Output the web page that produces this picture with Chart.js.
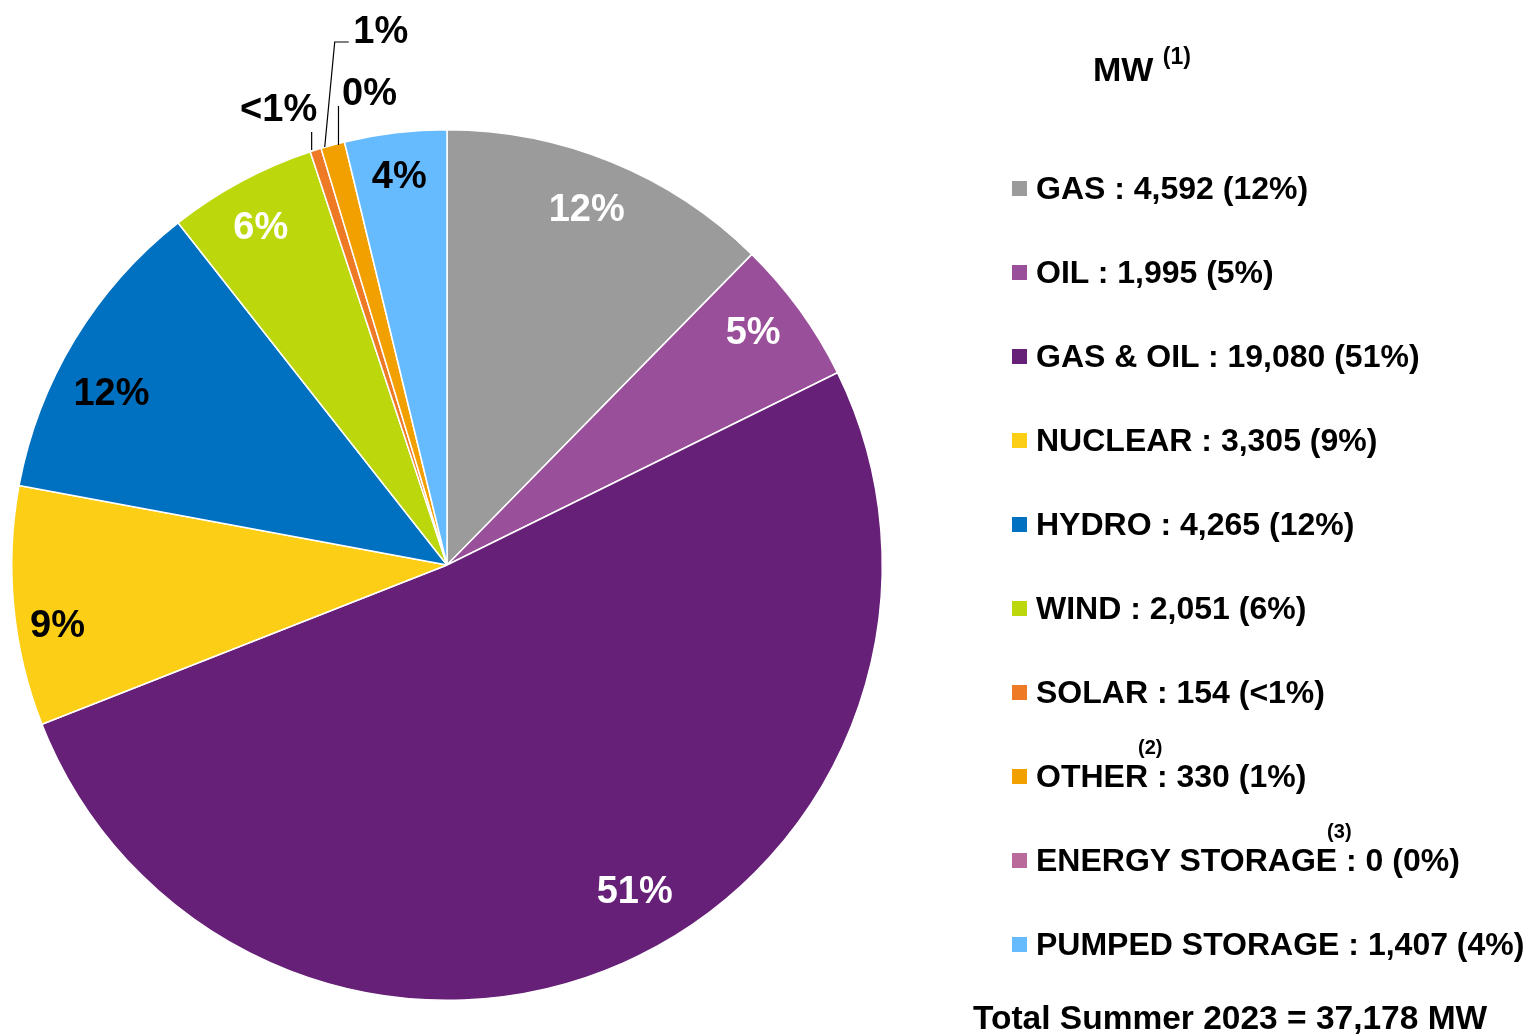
<!DOCTYPE html>
<html>
<head>
<meta charset="utf-8">
<script src="https://cdn.jsdelivr.net/npm/chart.js@4/dist/chart.umd.min.js"></script>
<style>
  html, body { margin: 0; padding: 0; background: #fff; }
  body { width: 1526px; height: 1035px; position: relative; overflow: hidden;
         font-family: "Liberation Sans", Arial, sans-serif; font-weight: bold; color: #000; }
  #wrap { position: absolute; left: 0; top: 0; width: 1526px; height: 1035px; }
  .lg { position: absolute; font-size: 32px; line-height: 32px; white-space: nowrap; }
  .sw { position: absolute; width: 15px; height: 15px; }
  .anchor { position: relative; display: inline-block; width: 0; height: 0; }
  .sup { position: absolute; left: -10px; top: -50px; font-size: 20px; line-height: 20px; white-space: nowrap; }
</style>
</head>
<body>
<div id="wrap"><canvas id="c" width="1526" height="1035"></canvas></div>
<div id="legend"></div>
<script>
// ---- data ----
const categories = ["GAS", "OIL", "GAS & OIL", "NUCLEAR", "HYDRO", "WIND", "SOLAR", "OTHER", "ENERGY STORAGE", "PUMPED STORAGE"];
const capacityMW = [4592, 1995, 19080, 3305, 4265, 2051, 154, 330, 0, 1407];
const pctLabels = ["12%", "5%", "51%", "9%", "12%", "6%", "<1%", "1%", "0%", "4%"];
const footnotes = ["", "", "", "", "", "", "", "(2)", "(3)", ""];
const sliceColors = ["#9B9B9B", "#994F99", "#662077", "#FCCF16", "#0070C0", "#BCD70B", "#EE7A26", "#F2A000", "#B96A9A", "#66BBFF"];
const labelColors = ["#fff", "#fff", "#fff", "#000", "#000", "#fff", "#000", "#000", "#000", "#000"];
const titleText = "MW";
const titleNote = "(1)";
const totalText = "Total Summer 2023 = 37,178 MW";

// label placement tweaks (styling only, in px)
const labelNudge = [[-6, 2], [-6, -6], [32, -25], [-6, 25], [-6, 29], [-4, 3], [0, 0], [0, 0], [0, 0], [-2, -5]];

// ---- legend (HTML) ----
const legend = document.getElementById('legend');
function addEl(html, cls, left, top) {
  const d = document.createElement('div');
  d.className = cls; d.style.left = left + 'px'; d.style.top = top + 'px';
  d.innerHTML = html; legend.appendChild(d); return d;
}
const t = addEl(titleText + ' <span style="font-size:23px;position:relative;top:-13px;vertical-align:top">' + titleNote + '</span>', 'lg', 1093, 52);
t.style.fontSize = '34px'; t.style.lineHeight = '34px';
categories.forEach((name, i) => {
  const cy = 188 + i * 84;
  const sw = addEl('', 'sw', 1012, cy - 7.5);
  sw.style.background = sliceColors[i];
  const note = footnotes[i] ? '<span class="anchor"><span class="sup">' + footnotes[i] + '</span></span>' : '';
  addEl(name + note + ' : ' + capacityMW[i].toLocaleString('en-US') + ' (' + pctLabels[i] + ')', 'lg', 1036, cy - 16);
});
const tot = addEl(totalText, 'lg', 973, 1002);
tot.style.fontSize = '33.5px';

// ---- pie labels plugin ----
const labelPlugin = {
  id: 'pieLabels',
  afterDatasetsDraw(chart) {
    const ctx = chart.ctx;
    const arcs = chart.getDatasetMeta(0).data;
    ctx.save();
    ctx.font = 'bold 38px "Liberation Sans", Arial, sans-serif';
    ctx.textAlign = 'center';
    ctx.textBaseline = 'middle';
    ctx.strokeStyle = '#000';
    ctx.lineWidth = 1.2;
    arcs.forEach((arc, i) => {
      const { x, y, startAngle, endAngle, outerRadius } = arc.getProps(['x', 'y', 'startAngle', 'endAngle', 'outerRadius'], true);
      const mid = (startAngle + endAngle) / 2;
      ctx.fillStyle = labelColors[i];
      if (i === 6) {
        const ax = x + Math.cos(mid) * outerRadius, ay = y + Math.sin(mid) * outerRadius;
        ctx.beginPath(); ctx.moveTo(ax - 4, ay); ctx.lineTo(ax - 4, ay - 18); ctx.stroke();
        ctx.fillText(pctLabels[i], ax - 37, ay - 40);
      } else if (i === 7) {
        const ax = x + Math.cos(mid) * outerRadius, ay = y + Math.sin(mid) * outerRadius;
        ctx.beginPath(); ctx.moveTo(ax - 8, ay + 2); ctx.lineTo(ax + 2, ay - 103); ctx.lineTo(ax + 16, ay - 103); ctx.stroke();
        ctx.fillText(pctLabels[i], ax + 48, ay - 113);
      } else if (i === 8) {
        const ax = x + Math.cos(endAngle) * outerRadius, ay = y + Math.sin(endAngle) * outerRadius;
        ctx.beginPath(); ctx.moveTo(ax - 6, ay + 3); ctx.lineTo(ax - 6, ay - 36); ctx.stroke();
        ctx.fillText(pctLabels[i], ax + 25, ay - 47);
      } else {
        const r = outerRadius * 0.885;
        ctx.fillText(pctLabels[i], x + Math.cos(mid) * r + labelNudge[i][0], y + Math.sin(mid) * r + labelNudge[i][1]);
      }
    });
    ctx.restore();
  }
};

new Chart(document.getElementById('c'), {
  type: 'pie',
  data: {
    labels: categories,
    datasets: [{
      data: capacityMW,
      backgroundColor: sliceColors,
      borderColor: '#ffffff',
      borderWidth: 1.5
    }]
  },
  options: {
    responsive: false,
    animation: false,
    layout: { padding: { left: 11, top: 129, right: 643, bottom: 34 } },
    plugins: { legend: { display: false }, tooltip: { enabled: false } }
  },
  plugins: [labelPlugin]
});
</script>
</body>
</html>
